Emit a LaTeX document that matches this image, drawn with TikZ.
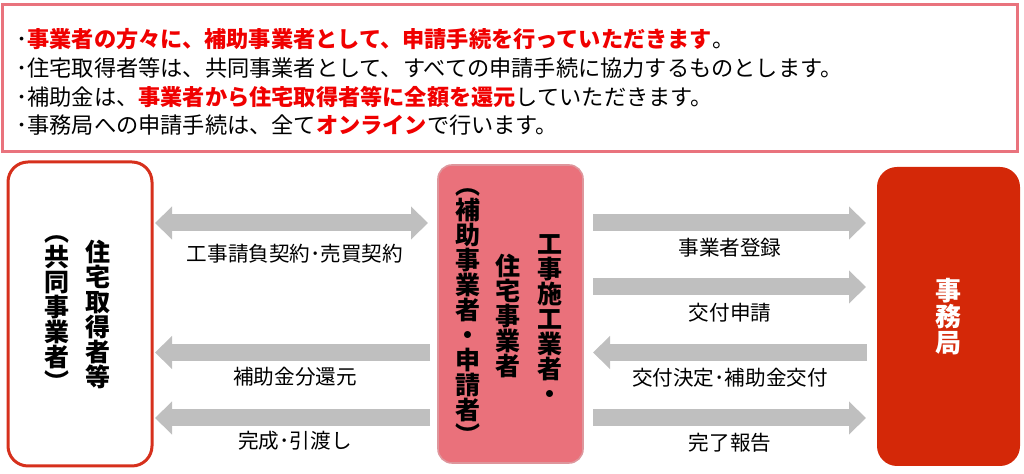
\documentclass[tikz,border=0pt]{standalone}
\usepackage{fontspec}
\newfontfamily\jp{Noto Sans CJK JP}
\usetikzlibrary{arrows.meta}

\definecolor{notepink}{RGB}{233,115,125}
\definecolor{boxpink}{RGB}{234,113,123}
\definecolor{boxpinkline}{RGB}{222,150,156}
\definecolor{boxred}{RGB}{212,40,8}
\definecolor{lineRed}{RGB}{214,48,28}
\definecolor{jpred}{RGB}{240,0,0}
\definecolor{arrowgray}{RGB}{191,191,191}

\tikzset{
  notebox/.style={draw=notepink, line width=1.5pt, fill=white, minimum width=507.5pt, minimum height=73.5pt, outer sep=0pt},
  notetext/.style={align=left, inner sep=0pt, font=\jp\fontsize{11.1}{14.4}\selectfont},
  buyerbox/.style={draw=lineRed, line width=1.5pt, rounded corners=10pt, minimum width=72pt, minimum height=152pt, outer sep=0pt},
  makerbox/.style={draw=boxpinkline, line width=0.8pt, fill=boxpink, rounded corners=7pt, minimum width=72.5pt, minimum height=149pt, outer sep=0pt},
  officebox/.style={fill=boxred, rounded corners=10pt, minimum width=71.5pt, minimum height=149.5pt, outer sep=0pt},
  tate/.style={align=center, inner sep=0pt, font=\jp\bfseries\fontsize{12.5}{12.5}\selectfont},
  lab/.style={inner sep=0pt, font=\jp\fontsize{10.3}{12}\selectfont},
  garrow/.style={draw=arrowgray, line width=8.5pt, -{Triangle[length=8.5pt,width=16pt]}},
  gdarrow/.style={draw=arrowgray, line width=8.5pt, {Triangle[length=8.5pt,width=16pt]}-{Triangle[length=8.5pt,width=16pt]}}
}

\begin{document}
\begin{tikzpicture}[x=0.5pt, y=-0.5pt]
  \useasboundingbox (0,0) rectangle (1024,474);

  % notes on top
  \node[notebox] (notes) at (510,78) {};
  \node[notetext, anchor=west] (notelines) at (16,82) {%
    ･\textcolor{jpred}{\bfseries 事業者の方々に、補助事業者として、申請手続を行っていただきます}。\\
    ･住宅取得者等は、共同事業者として、すべての申請手続に協力するものとします。\\
    ･補助金は、\textcolor{jpred}{\bfseries 事業者から住宅取得者等に全額を還元}していただきます。\\
    ･事務局への申請手続は、全て\textcolor{jpred}{\bfseries オンライン}で行います。};

  % the three parties
  \node[buyerbox] (buyer) at (80,314) {};
  \node[makerbox] (maker) at (510.5,314) {};
  \node[officebox] (office) at (948.5,316.5) {};

  \node[tate] (buyername) at (98,314) {住\\宅\\取\\得\\者\\等};
  \node[tate] (buyerrole) at (57,313.5) {︵\\共\\同\\事\\業\\者\\︶};

  \node[tate] (makername) at (550,319) {工\\事\\施\\工\\業\\者\\・};
  \node[tate] (makerhome) at (508,315.5) {住\\宅\\事\\業\\者};
  \node[tate] (makerrole) at (468,316.5) {︵\\補\\助\\事\\業\\者\\・\\申\\請\\者\\︶};

  \node[tate, text=white, font=\jp\bfseries\fontsize{13}{13}\selectfont] (officename) at (948,317) {事\\務\\局};

  % rows of the arrows
  \coordinate (row1) at (0,223);
  \coordinate (row2) at (0,287);
  \coordinate (row3) at (0,352.5);
  \coordinate (row4) at (0,418);

  % between buyer and maker
  \draw[gdarrow, shorten <=5pt, shorten >=1.5pt] (maker.west |- row1) -- (buyer.east |- row1)
    node[lab, midway, yshift=-15.5pt] (contract) {工事請負契約･売買契約};
  \draw[garrow, shorten <=4pt, shorten >=1.5pt] (maker.west |- row3) -- (buyer.east |- row3)
    node[lab, midway, yshift=-12pt] (refund) {補助金分還元};
  \draw[garrow, shorten <=4pt, shorten >=1.5pt] (maker.west |- row4) -- (buyer.east |- row4)
    node[lab, midway, yshift=-11.5pt] (handover) {完成･引渡し};

  % between maker and office
  \draw[garrow, shorten <=5pt, shorten >=5.5pt] (maker.east |- row1) -- (office.west |- row1)
    node[lab, midway, yshift=-12.5pt] (register) {事業者登録};
  \draw[garrow, shorten <=5pt, shorten >=5.5pt] (maker.east |- row2) -- (office.west |- row2)
    node[lab, midway, yshift=-13pt] (apply) {交付申請};
  \draw[garrow, shorten <=5pt, shorten >=5pt] (office.west |- row3) -- (maker.east |- row3)
    node[lab, midway, yshift=-12.5pt] (grant) {交付決定･補助金交付};
  \draw[garrow, shorten <=5pt, shorten >=5.5pt] (maker.east |- row4) -- (office.west |- row4)
    node[lab, midway, yshift=-12.5pt] (report) {完了報告};
\end{tikzpicture}
\end{document}
